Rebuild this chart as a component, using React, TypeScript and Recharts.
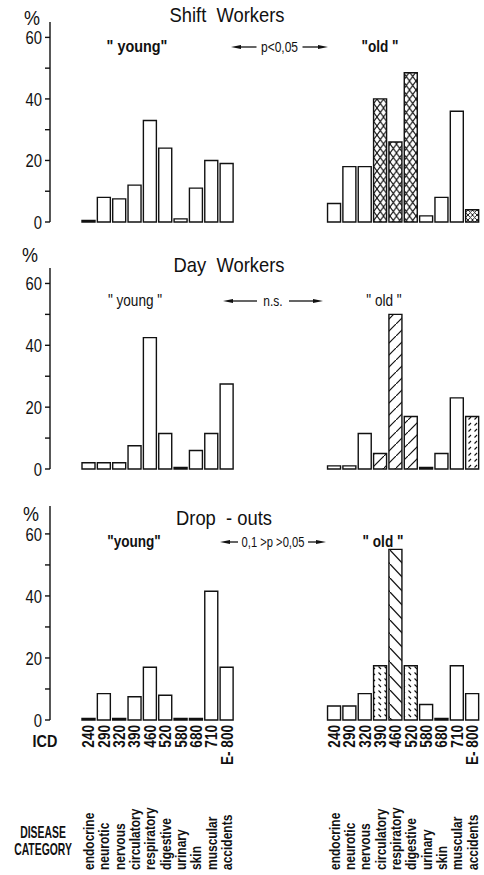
import { BarChart, Bar, XAxis, YAxis, Cell } from 'recharts';

const FONT = '"Liberation Sans", Arimo, "DejaVu Sans", sans-serif';
const INK = '#111';

// ICD codes and disease categories (same order for "young" and "old")
const icdCodes = ['240', '290', '320', '390', '460', '520', '580', '680', '710', 'E- 800'];
const diseaseCategories = [
  'endocrine', 'neurotic', 'nervous', 'circulatory', 'respiratory',
  'digestive', 'urinary', 'skin', 'muscular', 'accidents',
];

// % of each group
const shiftYoung = [0.5, 8, 7.5, 12, 33, 24, 1, 11, 20, 19];
const shiftOld = [6, 18, 18, 40, 26, 48.5, 2, 8, 36, 4];
const dayYoung = [2, 2, 2, 7.5, 42.5, 11.5, 0.5, 6, 11.5, 27.5];
const dayOld = [1, 1, 11.5, 5, 50, 17, 0.5, 5, 23, 17];
const dropYoung = [0.5, 8.5, 0.5, 7.5, 17, 8, 0.5, 0.5, 41.5, 17];
const dropOld = [4.5, 4.5, 8.5, 17.5, 55, 17.5, 5, 0.5, 17.5, 8.5];

// shading of the "old" bars (null = plain)
const shiftOldHatch = [null, null, null, 'cross', 'cross', 'cross', null, null, null, 'crossSmall'];
const dayOldHatch = [null, null, null, 'fwd', 'fwd', 'fwd', null, null, null, 'fwdDash'];
const dropOldHatch = [null, null, null, 'backDash', 'back', 'backDash', null, null, null, null];

const yTicks = [0, 10, 20, 30, 40, 50, 60];
const GAP_SLOTS = 6;

type Row = { slot: string; value: number | null; hatch: string | null; idx: number };

function buildRows(young: number[], old: number[], oldHatch: (string | null)[]): Row[] {
  const rows: Row[] = [];
  young.forEach((v, i) => rows.push({ slot: `y${i}`, value: v, hatch: null, idx: i }));
  for (let g = 0; g < GAP_SLOTS; g++) rows.push({ slot: `g${g}`, value: null, hatch: null, idx: -1 });
  old.forEach((v, i) => rows.push({ slot: `o${i}`, value: v, hatch: oldHatch[i], idx: i }));
  return rows;
}

// condensed-looking text: squeezed along its own direction
function Txt({
  x, y, size, children, anchor = 'middle', sx = 0.82, rot = 0, bold = false, dy,
}: {
  x: number; y: number; size: number; children: any; anchor?: string; sx?: number;
  rot?: number; bold?: boolean; dy?: string;
}) {
  return (
    <text
      transform={`translate(${x},${y}) rotate(${rot}) scale(${sx},1)`}
      dy={dy}
      textAnchor={anchor as any}
      fontFamily={FONT}
      fontSize={size}
      fontWeight={bold ? 'bold' : 'normal'}
      fill={INK}
      style={{ whiteSpace: 'pre' }}
    >
      {children}
    </text>
  );
}

function Patterns({ prefix }: { prefix: string }) {
  return (
    <defs>
      <pattern id={`${prefix}-cross`} patternUnits="userSpaceOnUse" width={6.5} height={9}>
        <rect width={6.5} height={9} fill="#fff" />
        <path d="M0,0 L6.5,9 M6.5,0 L0,9" stroke={INK} strokeWidth={1.1} />
      </pattern>
      <pattern id={`${prefix}-crossSmall`} patternUnits="userSpaceOnUse" width={4.5} height={5}>
        <rect width={4.5} height={5} fill="#fff" />
        <path d="M0,0 L4.5,5 M4.5,0 L0,5" stroke={INK} strokeWidth={0.9} />
      </pattern>
      <pattern id={`${prefix}-fwd`} patternUnits="userSpaceOnUse" width={12} height={12}>
        <rect width={12} height={12} fill="#fff" />
        <path d="M0,12 L12,0" stroke={INK} strokeWidth={1.2} />
      </pattern>
      <pattern id={`${prefix}-fwdDash`} patternUnits="userSpaceOnUse" width={6} height={6}>
        <rect width={6} height={6} fill="#fff" />
        <path d="M0.5,5.5 L3,3" stroke={INK} strokeWidth={1.1} />
      </pattern>
      <pattern id={`${prefix}-back`} patternUnits="userSpaceOnUse" width={13} height={14}>
        <rect width={13} height={14} fill="#fff" />
        <path d="M0,0 L13,14" stroke={INK} strokeWidth={1.2} />
      </pattern>
      <pattern id={`${prefix}-backDash`} patternUnits="userSpaceOnUse" width={6} height={6}>
        <rect width={6} height={6} fill="#fff" />
        <path d="M0.5,0.5 L3,3" stroke={INK} strokeWidth={1.1} />
      </pattern>
    </defs>
  );
}

const yTick = (props: any) => {
  const { x, y, payload } = props;
  if (payload.value % 20 !== 0) return <g />;
  return (
    <Txt x={x} y={y} dy="0.36em" anchor="end" size={19} sx={0.78}>
      {String(payload.value)}
    </Txt>
  );
};

type PanelProps = {
  prefix: string;
  rows: Row[];
  top: number;
  height: number;
  marginTop: number;
  marginBottom: number;
  axisHeight?: number;
  yMax: number;
  labels?: boolean;
};

function Panel({ prefix, rows, top, height, marginTop, marginBottom, axisHeight = 0, yMax, labels }: PanelProps) {
  const plotBottom = height - marginBottom - axisHeight;
  const xTick = (props: any) => {
    const { x, index } = props;
    const r = rows[index];
    if (!r || r.idx < 0) return <g />;
    const icdY = plotBottom + 5;
    const catY = plotBottom + 150;
    return (
      <g>
        <Txt x={x} y={icdY} dy="0.36em" anchor="end" rot={-90} size={16} sx={0.85} bold>
          {icdCodes[r.idx]}
        </Txt>
        <Txt x={x} y={catY} dy="0.36em" anchor="start" rot={-90} size={15} sx={0.8} bold>
          {diseaseCategories[r.idx]}
        </Txt>
      </g>
    );
  };

  return (
    <div style={{ position: 'absolute', top, left: 0 }}>
      <BarChart
        width={484}
        height={height}
        data={rows}
        margin={{ top: marginTop, right: 4, bottom: marginBottom, left: 0 }}
        barCategoryGap={0}
      >
        <Patterns prefix={prefix} />
        {labels ? (
          <XAxis
            dataKey="slot"
            padding={{ left: 31, right: 0 }}
            axisLine={false}
            tickLine={false}
            interval={0}
            height={axisHeight}
            tick={xTick}
          />
        ) : (
          <XAxis dataKey="slot" padding={{ left: 31, right: 0 }} hide />
        )}
        <YAxis
          width={50}
          domain={[0, yMax]}
          ticks={yTicks}
          interval={0}
          axisLine={{ stroke: INK, strokeWidth: 1.4 }}
          tickLine={{ stroke: INK, strokeWidth: 1.4 }}
          tickSize={5}
          tickMargin={3}
          tick={yTick}
        />
        <Bar dataKey="value" barSize={13} stroke={INK} strokeWidth={1.4} isAnimationActive={false}>
          {rows.map((r) => (
            <Cell key={r.slot} fill={r.hatch ? `url(#${prefix}-${r.hatch})` : '#fff'} />
          ))}
        </Bar>
      </BarChart>
    </div>
  );
}

function Arrow({
  x1, x2, y, label, gap, size = 15,
}: { x1: number; x2: number; y: number; label: string; gap: number; size?: number }) {
  const mid = (x1 + x2) / 2;
  return (
    <g>
      <line x1={x1 + 5} y1={y} x2={mid - gap} y2={y} stroke={INK} strokeWidth={1.3} />
      <line x1={mid + gap} y1={y} x2={x2 - 5} y2={y} stroke={INK} strokeWidth={1.3} />
      <polygon points={`${x1},${y} ${x1 + 10},${y - 2} ${x1 + 10},${y + 2}`} fill={INK} />
      <polygon points={`${x2},${y} ${x2 - 10},${y - 2} ${x2 - 10},${y + 2}`} fill={INK} />
      <Txt x={mid} y={y} dy="0.36em" size={size} sx={0.8}>
        {label}
      </Txt>
    </g>
  );
}

function Annotations() {
  return (
    <svg
      width={484}
      height={875}
      style={{ position: 'absolute', top: 0, left: 0, pointerEvents: 'none' }}
    >
      {/* Shift workers */}
      <Txt x={32} y={25} size={20} sx={0.9}>%</Txt>
      <Txt x={227} y={22} size={20} sx={0.92}>Shift  Workers</Txt>
      <Txt x={137} y={52} size={16} sx={0.9} bold>" young"</Txt>
      <Arrow x1={231} x2={328} y={47} label="p<0,05" gap={23} />
      <Txt x={380} y={52} size={16} sx={0.85} bold>"old "</Txt>

      {/* Day workers */}
      <Txt x={30} y={262} size={20} sx={0.9}>%</Txt>
      <Txt x={229} y={272} size={20} sx={0.92}>Day  Workers</Txt>
      <Txt x={135} y={306} size={16} sx={0.85}>" young "</Txt>
      <Arrow x1={223} x2={323} y={301} label="n.s." gap={16} />
      <Txt x={384} y={306} size={16} sx={0.85}>" old "</Txt>

      {/* Drop-outs */}
      <Txt x={31} y={521} size={20} sx={0.9}>%</Txt>
      <Txt x={224} y={525} size={20} sx={0.92}>Drop  - outs</Txt>
      <Txt x={134} y={547} size={16} sx={0.85} bold>"young"</Txt>
      <Arrow x1={220} x2={326} y={542} label="0,1 >p >0,05" gap={35} size={14} />
      <Txt x={383} y={547} size={16} sx={0.85} bold>" old "</Txt>

      <Txt x={45} y={747} size={16} sx={0.9} bold>ICD</Txt>
      <Txt x={43} y={838} size={16} sx={0.65} bold>DISEASE</Txt>
      <Txt x={43} y={855} size={16} sx={0.65} bold>CATEGORY</Txt>
    </svg>
  );
}

export default function App() {
  const shiftRows = buildRows(shiftYoung, shiftOld, shiftOldHatch);
  const dayRows = buildRows(dayYoung, dayOld, dayOldHatch);
  const dropRows = buildRows(dropYoung, dropOld, dropOldHatch);

  return (
    <div style={{ position: 'absolute', top: 0, left: 0, width: 484, height: 875, background: '#fff' }}>
      <Panel prefix="p1" rows={shiftRows} top={0} height={240} marginTop={22} marginBottom={18} yMax={65} />
      <Panel prefix="p2" rows={dayRows} top={240} height={247} marginTop={28} marginBottom={18} yMax={65} />
      <Panel
        prefix="p3" rows={dropRows} top={480} height={395} marginTop={26} marginBottom={0}
        axisHeight={155} yMax={69} labels
      />
      <Annotations />
    </div>
  );
}
